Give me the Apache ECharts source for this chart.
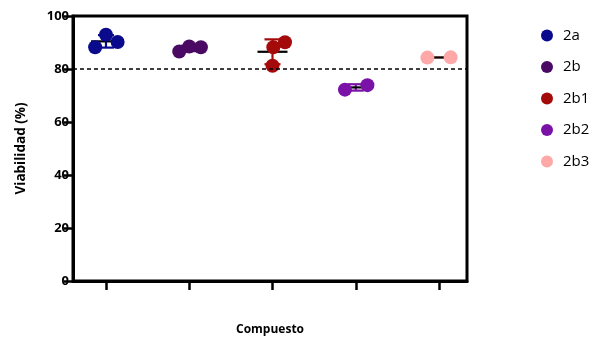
<!DOCTYPE html>
<html>
<head>
<meta charset="utf-8">
<script src="https://cdn.jsdelivr.net/npm/echarts@6/dist/echarts.min.js"></script>
<style>
  html, body { margin: 0; padding: 0; background: #fff; }
  #chart { width: 595px; height: 341px; }
</style>
</head>
<body>
<div id="chart"></div>
<script>
(function() {
	"use strict";

	/* data */
	var groups = ['2a', '2b', '2b1', '2b2', '2b3'];
	var v2a = [88.2, 92.9, 90.2];
	var v2b = [86.6, 88.5, 88.2];
	var v2b1 = [88.2, 90.1, 81.2];
	var v2b2 = [72.2, 73.9];
	var v2b3 = [84.3, 84.4];
	var yTicks = [0, 20, 40, 60, 80, 100];
	var threshold = 80;

	var values = [v2a, v2b, v2b1, v2b2, v2b3];
	var colors = ['#0a0a8c', '#4a0a64', '#a50a0a', '#7a12a8', '#ffa8a8'];
	// horizontal spread of the dots around each group (axis units)
	var jitter = [
		[-0.13, 0, 0.14],
		[-0.12, 0, 0.14],
		[0.01, 0.15, 0],
		[-0.13, 0.14],
		[-0.14, 0.14]
	];
	var font = 'Open Sans';

	function mean(a) {
		var s = 0;
		a.forEach(function(v) { s += v; });
		return s / a.length;
	}
	function sd(a) {
		var m = mean(a), s = 0;
		a.forEach(function(v) { s += (v - m) * (v - m); });
		return Math.sqrt(s / (a.length - 1));
	}

	var series = [];

	/* mean + SD bars */
	series.push({
		type: 'custom',
		z: 1,
		silent: true,
		data: values.map(function(a, i) { return [i + 1, mean(a), sd(a), i]; }),
		renderItem: function(params, api) {
			var x = api.value(0), m = api.value(1), s = api.value(2), gi = api.value(3);
			var c = api.coord([x, m]);
			var hi = api.coord([x, m + s]);
			var lo = api.coord([x, m - s]);
			var col = colors[gi];
			var lw = 2.2;
			return {
				type: 'group',
				children: [
					{ type: 'line', shape: { x1: c[0], y1: hi[1], x2: c[0], y2: lo[1] }, style: { stroke: col, lineWidth: lw } },
					{ type: 'line', shape: { x1: c[0] - 8, y1: hi[1], x2: c[0] + 8, y2: hi[1] }, style: { stroke: col, lineWidth: lw } },
					{ type: 'line', shape: { x1: c[0] - 8, y1: lo[1], x2: c[0] + 8, y2: lo[1] }, style: { stroke: col, lineWidth: lw } },
					{ type: 'line', shape: { x1: c[0] - 15, y1: c[1], x2: c[0] + 15, y2: c[1] }, style: { stroke: '#000', lineWidth: lw } }
				]
			};
		},
		markLine: {
			silent: true,
			symbol: 'none',
			label: { show: false },
			lineStyle: { color: '#000', type: [4, 3], width: 1.5 },
			data: [{ yAxis: threshold }]
		}
	});

	/* individual points */
	groups.forEach(function(name, i) {
		series.push({
			name: name,
			type: 'scatter',
			z: 3,
			symbol: 'circle',
			symbolSize: 14,
			itemStyle: { color: colors[i], opacity: 1 },
			data: values[i].map(function(v, k) { return [i + 1 + jitter[i][k], v]; })
		});
	});

	var chart = echarts.init(document.getElementById('chart'));
	var option = {
		animation: false,
		grid: {
			left: 73,
			right: 128,
			top: 16,
			bottom: 59,
			show: true,
			borderColor: '#000',
			borderWidth: 3,
			backgroundColor: 'transparent'
		},
		legend: {
			orient: 'vertical',
			left: 536,
			top: 23,
			itemWidth: 12,
			itemHeight: 12,
			itemGap: 16.5,
			icon: 'circle',
			textStyle: { fontFamily: font, fontSize: 15, color: '#000', padding: [0, 0, 0, 5] },
			data: groups
		},
		xAxis: {
			type: 'value',
			min: 0.604,
			max: 5.336,
			name: 'Compuesto',
			nameLocation: 'middle',
			nameGap: 43,
			nameTextStyle: { fontFamily: font, fontWeight: 'bold', fontSize: 12, color: '#000' },
			axisLine: { show: true, lineStyle: { color: '#000', width: 3 } },
			axisTick: { show: true, length: 9, lineStyle: { color: '#000', width: 2.5 }, customValues: [1, 2, 3, 4, 5] },
			axisLabel: { show: false },
			splitLine: { show: false }
		},
		yAxis: {
			type: 'value',
			min: yTicks[0],
			max: yTicks[yTicks.length - 1],
			interval: 20,
			name: 'Viabilidad (%)',
			nameLocation: 'middle',
			nameGap: 45,
			nameTextStyle: { fontFamily: font, fontWeight: 'bold', fontSize: 13.5, color: '#000' },
			axisLine: { show: true, lineStyle: { color: '#000', width: 3 } },
			axisTick: { show: true, length: 9, lineStyle: { color: '#000', width: 2.5 } },
			axisLabel: { fontFamily: font, fontWeight: 'bold', fontSize: 13, color: '#000', margin: 4 },
			splitLine: { show: false }
		},
		series: series
	};
	chart.setOption(option);
})();
</script>
</body>
</html>
